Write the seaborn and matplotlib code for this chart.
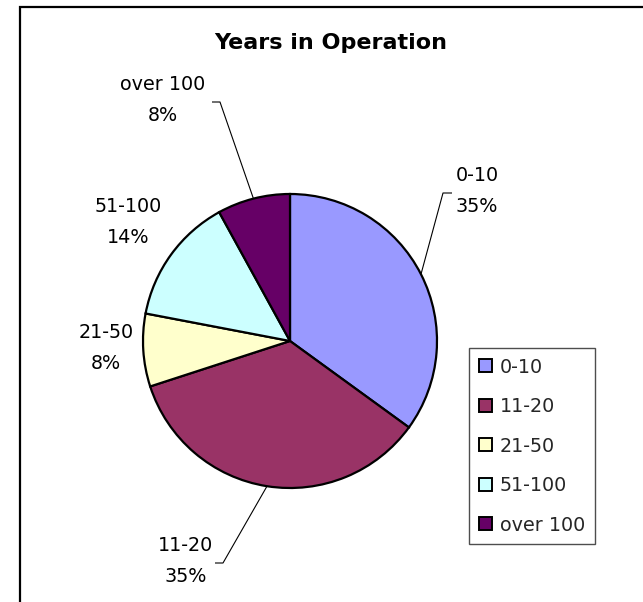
import matplotlib
matplotlib.use("Agg")
import matplotlib.pyplot as plt
import seaborn as sns
import numpy as np
from matplotlib.patches import Patch, Rectangle

# ---- data ----
categories = ["0-10", "11-20", "21-50", "51-100", "over 100"]
shares = [35, 35, 8, 14, 8]
colors = ["#9999FF", "#993366", "#FFFFCC", "#CCFFFF", "#660066"]
title = "Years in Operation"

sns.set_theme(style="white")
plt.rcParams['font.family'] = ['DejaVu Sans']

W, H = 643, 602
fig = plt.figure(figsize=(W / 100, H / 100), dpi=100)
ax = fig.add_axes([0, 0, 1, 1])

CX, CY, R = 290.0, 341.0, 147.0


def px(x, y):
    return ((x - CX) / R, (CY - y) / R)


wedges, _ = ax.pie(shares, colors=colors, startangle=90, counterclock=False,
                   radius=1.0, center=(0, 0),
                   wedgeprops=dict(edgecolor="black", linewidth=1.6))
ax.set_axis_off()
ax.set_aspect("auto")
ax.set_xlim(px(0, 0)[0], px(W, 0)[0])
ax.set_ylim(px(0, H)[1], px(0, 0)[1])

FS = 13.8
# labels: (center of text block in px), optional elbow for leader
label_pos = {
    "0-10": ((477, 191), [(452, 193), (443, 193)]),
    "11-20": ((186, 561), [(215, 563), (223, 563)]),
    "21-50": ((106, 348), None),
    "51-100": ((128, 222), None),
    "over 100": ((163, 100), [(212, 102), (220, 102)]),
}

total = sum(shares)
for w, cat, val in zip(wedges, categories, shares):
    (lx, ly), elbow = label_pos[cat]
    tx, ty = px(lx, ly)
    ax.text(tx, ty, f"{cat}\n{val / total * 100:.0f}%", ha="center", va="center",
            fontsize=FS, linespacing=1.8, color="black")
    if elbow is not None:
        mid = np.deg2rad((w.theta1 + w.theta2) / 2)
        ex, ey = np.cos(mid), np.sin(mid)
        pts = [px(*p) for p in elbow]
        xs = [ex, pts[1][0], pts[0][0]]
        ys = [ey, pts[1][1], pts[0][1]]
        ax.plot(xs, ys, color="black", linewidth=0.8, solid_capstyle="butt")

ax.text(*px(331, 49), title, ha="center", va="baseline", fontsize=16,
        fontweight="bold", color="black")

handles = [Patch(facecolor=c, edgecolor="black", linewidth=1.4, label=l)
           for c, l in zip(colors, categories)]
leg = ax.legend(handles=handles, loc="upper left",
                bbox_to_anchor=(469 / W, 1 - 348 / H), bbox_transform=fig.transFigure,
                fontsize=FS, frameon=True, fancybox=False, shadow=False,
                handlelength=0.68, handleheight=0.68, handletextpad=0.42,
                labelspacing=1.07, borderpad=0.5, borderaxespad=0.0)
leg.get_frame().set_edgecolor("#222222")
leg.get_frame().set_linewidth(1.0)

# chart-area border (left and top visible)
fig.add_artist(Rectangle((20 / W, -0.5), 2.0, 0.5 + (1 - 6.5 / H),
                         transform=fig.transFigure, fill=False,
                         edgecolor="black", linewidth=1.6))

fig.savefig("out.png", dpi=100)
